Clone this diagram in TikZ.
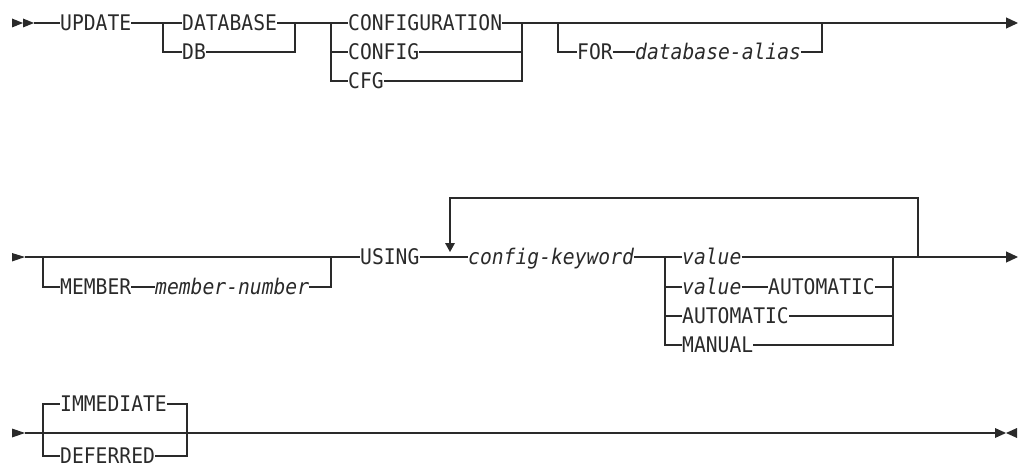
\documentclass[tikz,border=0pt]{standalone}
\usepackage{fontspec}
\setmonofont[FakeStretch=0.915]{DejaVu Sans Mono}
\usetikzlibrary{arrows.meta}
\definecolor{ink}{HTML}{2A2A2A}
\begin{document}
\begin{tikzpicture}[x=1pt,y=-1pt,
  kw/.style={anchor=west,inner sep=0pt,text height=15.6pt,text depth=0pt,
    font=\ttfamily\fontsize{21.5}{23}\selectfont,text=ink},
  var/.style={kw,font=\ttfamily\itshape\fontsize{21.5}{23}\selectfont},
  ln/.style={draw=ink,line width=1.2pt},
  tri/.style={fill=ink,draw=none}]
\useasboundingbox (0,0) rectangle (1019,468);

% ---------- Row 1 ----------
\fill[tri] (12,18.5) -- (23,23) -- (12,27.5) -- cycle;
\fill[tri] (23,18.5) -- (34,23) -- (23,27.5) -- cycle;
\coordinate (s1) at (34,23);
\node[kw] (update) at (60,23) {UPDATE};
\node[kw] (database) at (182,23) {DATABASE};
\node[kw] (db) at (182,52) {DB};
\coordinate (b1l) at (163,23);
\coordinate (b1r) at (295,23);
\node[kw] (configuration) at (348,23) {CONFIGURATION};
\node[kw] (config) at (348,52) {CONFIG};
\node[kw] (cfg) at (348,81) {CFG};
\coordinate (b2l) at (331,23);
\coordinate (b2r) at (522,23);
\coordinate (b3l) at (558,23);
\node[kw] (for) at (577,52) {FOR};
\node[var] (alias) at (635,52) {database-alias};
\coordinate (b3r) at (822,23);
\coordinate (e1) at (1018,23);

\draw[ln] (s1) -- (update.west);
\draw[ln] (update.east) -- (database.west);
\draw[ln] (database.east) -- (configuration.west);
\draw[ln] (b1l) |- (db.west);
\draw[ln] (db.east) -| (b1r);
\draw[ln] (b2l) |- (config.west);
\draw[ln] (b2l) |- (cfg.west);
\draw[ln] (config.east) -| (b2r);
\draw[ln] (cfg.east) -| (b2r);
\draw[ln] (b3l) |- (for.west);
\draw[ln] (for.east) -- (alias.west);
\draw[ln] (alias.east) -| (b3r);
\draw[ln,-{Triangle[length=12pt,width=11pt]}] (configuration.east) -- (e1);

% ---------- Row 2 ----------
\fill[tri] (12,253) -- (25,257) -- (12,261.5) -- cycle;
\coordinate (s2) at (25,257);
\coordinate (m1l) at (43,257);
\coordinate (m1r) at (331,257);
\node[kw] (member) at (60,287) {MEMBER};
\node[var] (membernum) at (155,287) {member-number};
\node[kw] (using) at (360,257) {USING};
\node[var] (ckw) at (468,257) {config-keyword};
\coordinate (v1l) at (665,257);
\coordinate (v1r) at (893,257);
\node[var] (value) at (682,257) {value};
\node[var] (value2) at (682,287) {value};
\node[kw] (auto2) at (768,287) {AUTOMATIC};
\node[kw] (auto) at (682,316) {AUTOMATIC};
\node[kw] (manual) at (682,345) {MANUAL};
\coordinate (loopr) at (918,257);
\coordinate (loopt) at (450,198);
\coordinate (loopa) at (450,243);
\coordinate (e2) at (1018,257);

\draw[ln] (s2) -- (using.west);
\draw[ln] (m1l) |- (member.west);
\draw[ln] (member.east) -- (membernum.west);
\draw[ln] (membernum.east) -| (m1r);
\draw[ln] (using.east) -- (ckw.west);
\draw[ln] (ckw.east) -- (value.west);
\draw[ln] (v1l) |- (value2.west);
\draw[ln] (v1l) |- (auto.west);
\draw[ln] (v1l) |- (manual.west);
\draw[ln] (value2.east) -- (auto2.west);
\draw[ln] (auto2.east) -| (v1r);
\draw[ln] (auto.east) -| (v1r);
\draw[ln] (manual.east) -| (v1r);
\draw[ln,-{Triangle[length=12pt,width=11pt]}] (value.east) -- (e2);
\draw[ln] (loopr) |- (loopt) -- (loopa);
\fill[tri] (445,243) -- (455,243) -- (450,252) -- cycle;

% ---------- Row 3 ----------
\fill[tri] (12,428.5) -- (25,433) -- (12,437.5) -- cycle;
\coordinate (s3) at (25,433);
\coordinate (d1l) at (43,433);
\coordinate (d1r) at (187,433);
\node[kw] (immediate) at (60,404) {IMMEDIATE};
\node[kw] (deferred) at (60,456) {DEFERRED};
\coordinate (e3) at (995,433);
\draw[ln] (s3) -- (e3);
\draw[ln] (d1l) |- (immediate.west);
\draw[ln] (d1l) |- (deferred.west);
\draw[ln] (immediate.east) -| (d1r);
\draw[ln] (deferred.east) -| (d1r);
\draw[draw=ink,line width=2.4pt] (193,433) -- (217,433);
\fill[tri] (995,428) -- (1006,433) -- (995,438) -- cycle;
\fill[tri] (1017,428) -- (1006,433) -- (1017,438) -- cycle;
\end{tikzpicture}
\end{document}
